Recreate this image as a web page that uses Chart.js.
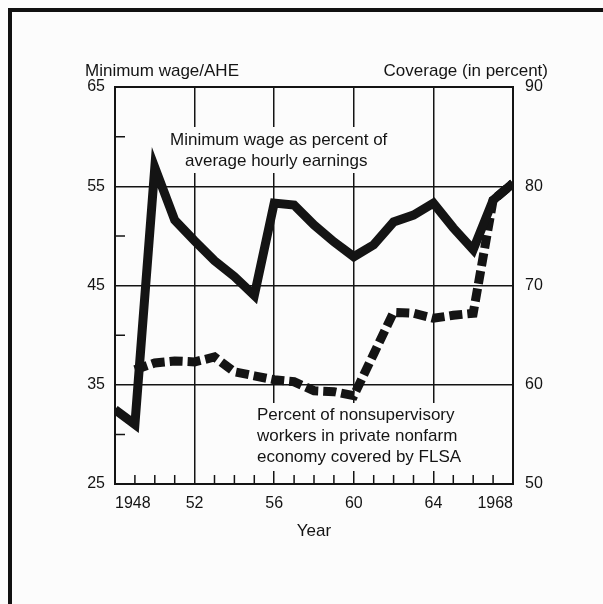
<!DOCTYPE html>
<html>
<head>
<meta charset="utf-8">
<script src="https://cdn.jsdelivr.net/npm/chart.js@4/dist/chart.umd.min.js"></script>
<style>
  html, body { margin: 0; padding: 0; background: #fcfcfc; }
  #wrap { position: relative; width: 603px; height: 604px; overflow: hidden; }
  #frame { position: absolute; left: 8px; top: 8px; width: 620px; height: 620px;
           border-top: 4px solid #111; border-left: 4px solid #111; }
  canvas { position: absolute; left: 0; top: 0; }
</style>
</head>
<body>
<div id="wrap">
  <div id="frame"></div>
  <canvas id="myChart" width="603" height="604"></canvas>
</div>
<script>
// Data
const years = [1948, 1949, 1950, 1951, 1952, 1953, 1954, 1955, 1956, 1957, 1958,
               1959, 1960, 1961, 1962, 1963, 1964, 1965, 1966, 1967, 1968];
// minimum wage as percent of average hourly earnings (left axis)
const wageRatio = [32.5, 31.0, 56.9, 51.6, 49.5, 47.5, 45.9, 44.0, 53.3, 53.1, 51.1,
                   49.4, 47.9, 49.1, 51.4, 52.1, 53.3, 50.8, 48.6, 53.6, 55.3];
// percent of nonsupervisory workers covered by FLSA (right axis)
const coverage = [null, 61.5, 62.2, 62.4, 62.3, 62.8, 61.3, 60.9, 60.5, 60.3, 59.4,
                  59.3, 58.9, 63.1, 67.3, 67.2, 66.7, 67.0, 67.2, 78.6, 80.3];

const xTicks = [1948, 1952, 1956, 1960, 1964, 1968];
const xTickLabels = ['1948', '52', '56', '60', '64', '1968'];
const leftTicks = [25, 35, 45, 55, 65];
const rightTicks = [50, 60, 70, 80, 90];
const leftMinor = [30, 40, 50, 60];
const minorYears = years.filter(y => !xTicks.includes(y));

const ink = '#141414';
const font = '"Liberation Sans", Arial, sans-serif';

const decor = {
  id: 'decor',
  beforeDatasetsDraw(chart) {
    const { ctx, chartArea: a, scales: { x, y } } = chart;
    ctx.save();
    ctx.strokeStyle = ink;
    ctx.lineWidth = 1.5;
    ctx.beginPath();
    // small inward ticks on the bottom and left edges
    minorYears.forEach(yr => {
      const px = x.getPixelForValue(yr);
      ctx.moveTo(px, a.bottom);
      ctx.lineTo(px, a.bottom - 9);
    });
    leftMinor.forEach(v => {
      const py = y.getPixelForValue(v);
      ctx.moveTo(a.left, py);
      ctx.lineTo(a.left + 10, py);
    });
    ctx.stroke();

    // labels sit on white patches that hide the grid
    ctx.fillStyle = '#fcfcfc';
    ctx.fillRect(168, 127, 232, 46);
    ctx.fillRect(252, 403, 218, 68);
    ctx.fillStyle = ink;
    ctx.font = '17px ' + font;
    ctx.textAlign = 'left';
    ctx.textBaseline = 'alphabetic';
    ctx.fillText('Minimum wage as percent of', 170, 145);
    ctx.fillText('average hourly earnings', 185, 166);
    ctx.fillText('Percent of nonsupervisory', 257, 420);
    ctx.fillText('workers in private nonfarm', 257, 441);
    ctx.fillText('economy covered by FLSA', 257, 462);
    ctx.restore();
  },
  afterDatasetsDraw(chart) {
    const { ctx, chartArea: a } = chart;
    ctx.save();
    ctx.strokeStyle = ink;
    ctx.lineWidth = 2;
    ctx.strokeRect(a.left, a.top, a.right - a.left, a.bottom - a.top);
    ctx.fillStyle = ink;
    ctx.font = '17px ' + font;
    ctx.textBaseline = 'alphabetic';
    ctx.textAlign = 'left';
    ctx.fillText('Minimum wage/AHE', 85, 76);
    ctx.textAlign = 'right';
    ctx.fillText('Coverage (in percent)', 548, 76);
    ctx.textAlign = 'center';
    ctx.fillText('Year', (a.left + a.right) / 2, 536);
    ctx.restore();
  }
};

const ctx = document.getElementById('myChart').getContext('2d');
new Chart(ctx, {
  type: 'line',
  data: {
    datasets: [{
      label: 'Minimum wage as percent of average hourly earnings',
      data: years.map((yr, i) => ({ x: yr, y: wageRatio[i] })),
      yAxisID: 'y',
      borderColor: ink,
      borderWidth: 9,
      borderJoinStyle: 'miter',
      pointRadius: 0,
      tension: 0
    }, {
      label: 'Percent of nonsupervisory workers covered by FLSA',
      data: years.map((yr, i) => ({ x: yr, y: coverage[i] })),
      yAxisID: 'y2',
      borderColor: ink,
      borderWidth: 9,
      borderDash: [13, 5],
      borderJoinStyle: 'miter',
      pointRadius: 0,
      tension: 0
    }]
  },
  options: {
    responsive: false,
    animation: false,
    layout: { padding: { top: 87, left: 0, right: 0, bottom: 0 } },
    plugins: { legend: { display: false }, tooltip: { enabled: false } },
    scales: {
      x: {
        type: 'linear',
        min: 1948,
        max: 1968,
        afterBuildTicks: s => { s.ticks = xTicks.map(v => ({ value: v })); },
        afterFit: s => { s.height = 120; },
        grid: { color: ink, lineWidth: 1.5, drawTicks: false },
        border: { color: ink, width: 2 },
        ticks: {
          align: 'inner',
          padding: 10,
          color: ink,
          font: { family: font, size: 16 },
          callback: (v, i) => xTickLabels[i]
        }
      },
      y: {
        position: 'left',
        min: 25,
        max: 65,
        afterBuildTicks: s => { s.ticks = leftTicks.map(v => ({ value: v })); },
        afterFit: s => { s.width = 115; },
        grid: { color: ink, lineWidth: 1.5, drawTicks: false },
        border: { color: ink, width: 2 },
        ticks: { padding: 10, color: ink, font: { family: font, size: 16 } }
      },
      y2: {
        position: 'right',
        min: 50,
        max: 90,
        afterBuildTicks: s => { s.ticks = rightTicks.map(v => ({ value: v })); },
        afterFit: s => { s.width = 90; },
        grid: { drawOnChartArea: false, drawTicks: false },
        border: { color: ink, width: 2 },
        ticks: { padding: 12, color: ink, font: { family: font, size: 16 } }
      }
    }
  },
  plugins: [decor]
});
</script>
</body>
</html>
